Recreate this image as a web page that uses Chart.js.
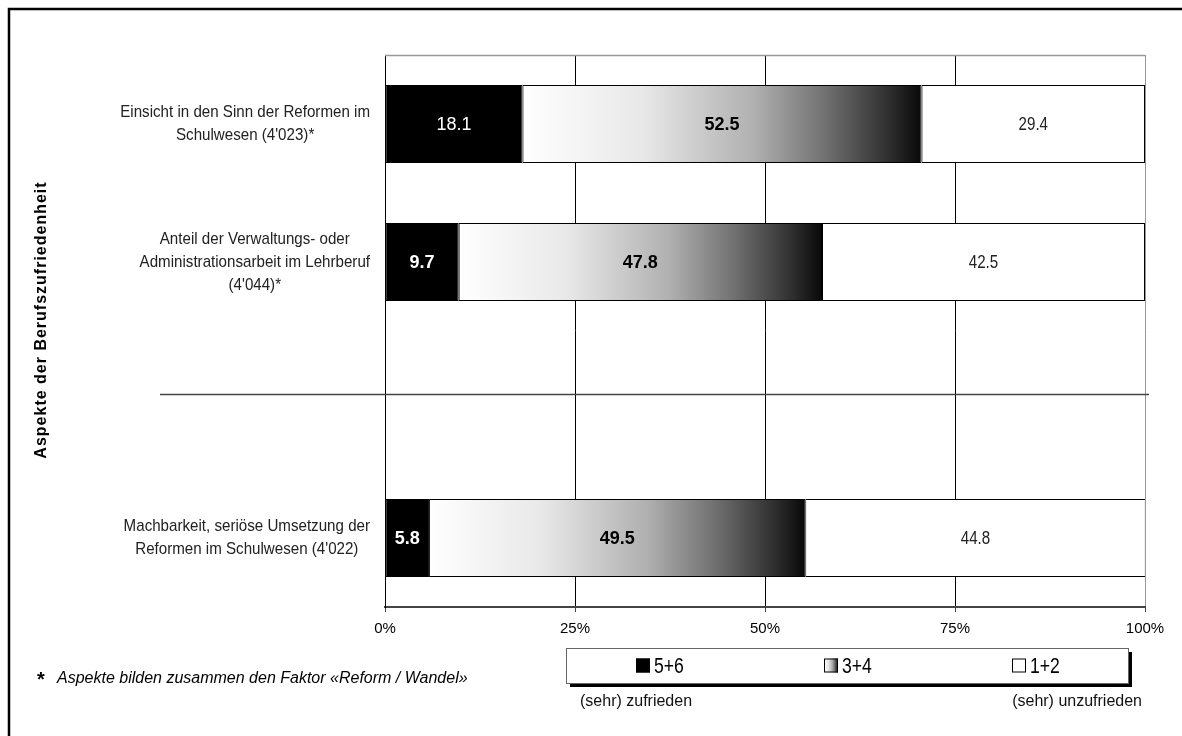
<!DOCTYPE html>
<html>
<head>
<meta charset="utf-8">
<script src="https://cdn.jsdelivr.net/npm/chart.js@4.4.1/dist/chart.umd.min.js"></script>
<style>
  html, body { margin: 0; padding: 0; background: #fff; }
  #wrap { width: 1182px; height: 736px; position: relative; }
</style>
</head>
<body>
<div id="wrap"><canvas id="chart"></canvas></div>
<script>
'use strict';

// Kategorien (die leere dritte Zeile ist der Abstand vor dem Trennstrich)
const categories = [
    ['Einsicht in den Sinn der Reformen im', 'Schulwesen (4\'023)*'],
    ['Anteil der Verwaltungs- oder', 'Administrationsarbeit im Lehrberuf', '(4\'044)*'],
    '',
    ['Machbarkeit, seriöse Umsetzung der', 'Reformen im Schulwesen (4\'022)']
];

const ratings = ['5+6', '3+4', '1+2'];

// Prozentwerte je Antwortgruppe
const high = [18.1, 9.7, null, 5.8];    // 5+6
const middle = [52.5, 47.8, null, 49.5]; // 3+4
const low = [29.4, 42.5, null, 44.8];   // 1+2

const xTicks = [0, 25, 50, 75, 100];

const axisTitle = 'Aspekte der Berufszufriedenheit';
const footnote = 'Aspekte bilden zusammen den Faktor «Reform / Wandel»';
const leftNote = '(sehr) zufrieden';
const rightNote = '(sehr) unzufrieden';

const ARIAL = '"Liberation Sans", Arial, sans-serif';

// weiss -> schwarz Verlauf wie im Original
function greyRamp(ctx, x0, x1) {
    const g = ctx.createLinearGradient(x0, 0, x1, 0);
    g.addColorStop(0, '#ffffff');
    g.addColorStop(0.3, '#e8e8e8');
    g.addColorStop(0.58, '#b0b0b0');
    g.addColorStop(0.76, '#707070');
    g.addColorStop(0.92, '#2e2e2e');
    g.addColorStop(1, '#080808');
    return g;
}

function middleFill(c) {
    const chart = c.chart;
    if (!chart.chartArea) return '#bbb';
    const i = c.dataIndex;
    const x = chart.scales.x;
    const start = high[i] || 0;
    const a = x.getPixelForValue(start);
    const b = x.getPixelForValue(start + (middle[i] || 0));
    return greyRamp(chart.ctx, a, b);
}

// schmale Schrift (Arial Narrow gibt es hier nicht) -> horizontal stauchen
function narrowText(ctx, text, x, y, sx) {
    ctx.save();
    ctx.translate(x, y);
    ctx.scale(sx, 1);
    ctx.fillText(text, 0, 0);
    ctx.restore();
}

const decor = {
    id: 'decor',
    afterDraw(chart) {
        const ctx = chart.ctx;
        const area = chart.chartArea;
        const yScale = chart.scales.y;
        ctx.save();

        // Rahmen oben am Diagramm
        ctx.strokeStyle = '#999';
        ctx.lineWidth = 1.5;
        ctx.beginPath();
        ctx.moveTo(area.left, area.top + 0.5);
        ctx.lineTo(area.right, area.top + 0.5);
        ctx.stroke();

        // Trennstrich
        const sepY = Math.round(yScale.getPixelForValue(1.96)) + 0.5;
        ctx.strokeStyle = '#444';
        ctx.lineWidth = 1.5;
        ctx.beginPath();
        ctx.moveTo(160, sepY);
        ctx.lineTo(area.right + 4, sepY);
        ctx.stroke();

        // Werte in den Balken
        ctx.textBaseline = 'middle';
        ctx.textAlign = 'center';
        chart.data.datasets.forEach((ds, d) => {
            const meta = chart.getDatasetMeta(d);
            meta.data.forEach((el, i) => {
                const v = ds.data[i];
                if (v === null || v === undefined) return;
                const cx = (el.x + el.base) / 2;
                if (d === 0) {
                    ctx.fillStyle = '#fff';
                    ctx.font = (i === 0 ? '' : 'bold ') + '18px ' + ARIAL;
                    ctx.fillText(v.toFixed(1), cx, el.y + 1);
                } else if (d === 1) {
                    ctx.fillStyle = '#000';
                    ctx.font = 'bold 18px ' + ARIAL;
                    ctx.fillText(v.toFixed(1), cx, el.y + 1);
                } else {
                    ctx.fillStyle = '#222';
                    ctx.font = '18px ' + ARIAL;
                    narrowText(ctx, v.toFixed(1), cx, el.y + 1, 0.84);
                }
            });
        });

        // Kategorien links, Zeilen zentriert, Block rechtsbündig
        const sx = 0.89;
        ctx.font = '17px ' + ARIAL;
        ctx.fillStyle = '#222';
        categories.forEach((lab, i) => {
            const lines = Array.isArray(lab) ? lab : [lab];
            if (!lines[0]) return;
            const w = Math.max(...lines.map(l => ctx.measureText(l).width)) * sx;
            const cx = area.left - 15 - w / 2;
            const cy = yScale.getPixelForValue(i);
            const lh = 23;
            lines.forEach((l, k) => {
                narrowText(ctx, l, cx, cy + (k - (lines.length - 1) / 2) * lh, sx);
            });
        });

        // Achsentitel
        ctx.save();
        ctx.translate(42, 320);
        ctx.rotate(-Math.PI / 2);
        ctx.font = 'bold 16px ' + ARIAL;
        ctx.letterSpacing = '1px';
        ctx.fillStyle = '#000';
        ctx.fillText(axisTitle, 0, 0);
        ctx.restore();

        // Legende mit Schatten
        const bx = 566, by = 648, bw = 562, bh = 35;
        ctx.fillStyle = '#000';
        ctx.fillRect(bx + 4, by + 4, bw, bh);
        ctx.fillStyle = '#fff';
        ctx.fillRect(bx, by, bw, bh);
        ctx.strokeStyle = '#666';
        ctx.lineWidth = 1;
        ctx.strokeRect(bx + 0.5, by + 0.5, bw, bh);

        const itemX = [636, 824, 1012];
        const ly = by + bh / 2;
        chart.data.datasets.forEach((ds, d) => {
            const x = itemX[d];
            if (d === 1) ctx.fillStyle = greyRamp(ctx, x, x + 14);
            else ctx.fillStyle = ds.backgroundColor;
            ctx.fillRect(x, ly - 7, 14, 14);
            ctx.strokeStyle = '#000';
            ctx.strokeRect(x + 0.5, ly - 6.5, 13, 13);
            ctx.fillStyle = '#000';
            ctx.font = '22px ' + ARIAL;
            ctx.textAlign = 'left';
            narrowText(ctx, ds.label, x + 18, ly + 1, 0.8);
        });

        ctx.font = '16px ' + ARIAL;
        ctx.fillStyle = '#111';
        ctx.textAlign = 'left';
        ctx.fillText(leftNote, 580, 702);
        ctx.textAlign = 'right';
        ctx.fillText(rightNote, 1142, 702);

        // Fussnote
        ctx.textAlign = 'left';
        ctx.font = 'bold 20px ' + ARIAL;
        ctx.fillStyle = '#000';
        ctx.fillText('*', 37, 680);
        ctx.font = 'italic 16px ' + ARIAL;
        ctx.fillText(footnote, 57, 679);

        // Aussenrahmen
        ctx.strokeStyle = '#000';
        ctx.lineWidth = 2.5;
        ctx.beginPath();
        ctx.moveTo(9, 740);
        ctx.lineTo(9, 9);
        ctx.lineTo(1190, 9);
        ctx.stroke();

        ctx.restore();
    }
};

const chart = new Chart(document.getElementById('chart'), {
    type: 'bar',
    data: {
        labels: categories,
        datasets: [
            { label: ratings[0], data: high, backgroundColor: '#000' },
            { label: ratings[1], data: middle, backgroundColor: middleFill },
            { label: ratings[2], data: low, backgroundColor: '#fff' }
        ].map(ds => Object.assign(ds, {
            borderColor: '#000',
            borderWidth: 1,
            borderSkipped: false,
            barPercentage: 0.565,
            categoryPercentage: 1
        }))
    },
    options: {
        indexAxis: 'y',
        responsive: true,
        maintainAspectRatio: false,
        animation: false,
        layout: { padding: { top: 55, right: 37, bottom: 0, left: 0 } },
        plugins: {
            legend: { display: false },
            tooltip: { enabled: false }
        },
        scales: {
            x: {
                stacked: true,
                min: 0,
                max: 100,
                afterBuildTicks: (s) => { s.ticks = xTicks.map(v => ({ value: v })); },
                grid: {
                    color: (c) => (c.tick && c.tick.value === 100 ? '#999' : '#000'),
                    lineWidth: 1,
                    tickLength: 5,
                    tickColor: '#444'
                },
                border: { color: '#444', width: 2 },
                ticks: {
                    callback: (v) => v + '%',
                    color: '#000',
                    font: { family: ARIAL, size: 15 },
                    padding: 8,
                    maxRotation: 0
                },
                afterFit: (s) => { s.height = 129; }
            },
            y: {
                stacked: true,
                grid: { display: false, drawTicks: false },
                border: { color: '#000', width: 1 },
                ticks: { display: false },
                afterFit: (s) => { s.width = 385; }
            }
        }
    },
    plugins: [decor]
});
</script>
</body>
</html>
